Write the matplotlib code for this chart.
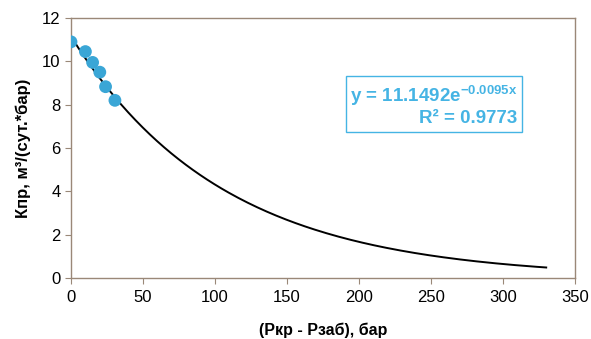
import numpy as np
import matplotlib.pyplot as plt

plt.rcParams['font.family'] = ['Liberation Sans', 'DejaVu Sans']

# measured points
dp = [0, 10, 15, 20, 24, 30.5]
kpr = [10.9, 10.45, 9.95, 9.5, 8.83, 8.2]

# exponential trend
a, b = 11.1492, -0.0095
x_fit = np.linspace(0, 330, 200)
y_fit = a * np.exp(b * x_fit)

fig = plt.figure(figsize=(5.91, 3.39), dpi=100)
ax = fig.add_axes([71 / 591, 1 - 278 / 339, (575 - 71) / 591, (278 - 18) / 339])

ax.plot(x_fit, y_fit, color='black', lw=1.4, zorder=2)
ax.scatter(dp, kpr, s=85, color='#3aa6d6', edgecolors='none', zorder=3)

ax.set_xlim(0, 350)
ax.set_ylim(0, 12)
ax.set_xticks(range(0, 351, 50))
ax.set_yticks(range(0, 13, 2))
for s in ax.spines.values():
    s.set_color('#9a8878')
    s.set_linewidth(1)
ax.tick_params(colors='#9a8878', labelcolor='black', labelsize=12, length=4, direction='out')
ax.tick_params(axis='x', pad=5)

ax.set_xlabel('(Ркр - Рзаб), бар', fontsize=11.5, fontweight='bold', labelpad=12)
ax.set_ylabel('Кпр, м³/(сут.*бар)', fontsize=12, fontweight='bold', labelpad=8)

ax.text(0.72, 0.665, 'y = 11.1492e$^{\\mathregular{-0.0095x}}$\nR² = 0.9773', transform=ax.transAxes,
        ha='center', va='center', fontsize=13.5, fontweight='bold', color='#45b4e4',
        linespacing=1.2, multialignment='right',
        bbox=dict(boxstyle='square,pad=0.25', fc='white', ec='#45b4e4', lw=1))

fig.savefig('out.png', dpi=100)
